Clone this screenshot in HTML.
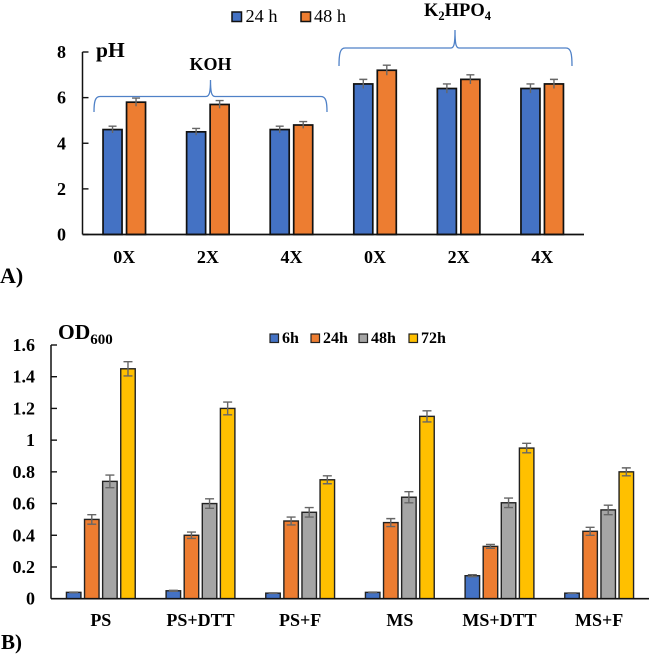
<!DOCTYPE html>
<html>
<head>
<meta charset="utf-8">
<style>
html,body{margin:0;padding:0;background:#fff;width:649px;height:656px;overflow:hidden}
svg{display:block;filter:blur(0.3px)}
text{font-family:"Liberation Serif",serif;fill:#000}
.b{font-weight:bold}
</style>
</head>
<body>
<svg id="fig" width="649" height="656" viewBox="0 0 649 656" xmlns="http://www.w3.org/2000/svg">
  <g id="chartA"></g>
  <g id="chartB"></g>

  <text class="b" x="0" y="283" font-size="22">A)</text>
  <text class="b" x="96" y="57" font-size="21.5">pH</text>
  <text class="b" x="210.5" y="70" font-size="18" text-anchor="middle">KOH</text>
  <text class="b" x="424" y="16" font-size="18.5">K<tspan font-size="12.500" dy="4">2</tspan><tspan dy="-4">HPO</tspan><tspan font-size="12.500" dy="4">4</tspan></text>
  <path d="M94 112 C94 102 95 96.500 100 96.500 L206 96.500 C209.500 96.500 210.500 92 210.500 80 C210.500 92 211.500 96.500 215 96.500 L321 96.500 C326 96.500 327 102 327 112" fill="none" stroke="#4f81c7" stroke-width="1.300"/>
  <path d="M339 66 C339 54 340 48 345 48 L451 48 C454 48 455 44 455 30 C455 44 456 48 459 48 L566 48 C571 48 572 54 572 66" fill="none" stroke="#4f81c7" stroke-width="1.300"/>

  <g>
    <rect x="232" y="12" width="9.500" height="9.500" fill="#4472c4" stroke="#111" stroke-width="1.500"/>
    <text x="245.500" y="22" font-size="18.3">24 h</text>
    <rect x="301" y="12" width="9.500" height="9.500" fill="#ed7d31" stroke="#111" stroke-width="1.500"/>
    <text x="314" y="22" font-size="18.3">48 h</text>
  </g>

  <text class="b" x="1" y="649" font-size="21">B)</text>
  <text class="b" x="58" y="339" font-size="21.5">OD<tspan font-size="15" dy="5">600</tspan></text>

  <g>
    <rect x="270" y="334" width="8.500" height="8.500" fill="#4472c4" stroke="#222" stroke-width="1.200"/>
    <text class="b" x="282" y="343" font-size="16">6h</text>
    <rect x="311" y="334" width="8.500" height="8.500" fill="#ed7d31" stroke="#222" stroke-width="1.200"/>
    <text class="b" x="323" y="343" font-size="16">24h</text>
    <rect x="359" y="334" width="8.500" height="8.500" fill="#a5a5a5" stroke="#222" stroke-width="1.200"/>
    <text class="b" x="371" y="343" font-size="16">48h</text>
    <rect x="409" y="334" width="8.500" height="8.500" fill="#ffc000" stroke="#222" stroke-width="1.200"/>
    <text class="b" x="421" y="343" font-size="16">72h</text>
  </g>
</svg>
<script>
// Panel A data
const phCategories = ["0X", "2X", "4X", "0X", "2X", "4X"];
const phTicks = [0, 2, 4, 6, 8];
const ph24 = [4.6, 4.5, 4.6, 6.6, 6.4, 6.4];
const ph48 = [5.8, 5.7, 4.8, 7.2, 6.8, 6.6];
const ph24Err = [0.15, 0.15, 0.15, 0.2, 0.2, 0.2];
const ph48Err = [0.18, 0.17, 0.15, 0.22, 0.2, 0.2];

// Panel B data
const odCategories = ["PS", "PS+DTT", "PS+F", "MS", "MS+DTT", "MS+F"];
const odTicks = [0, 0.2, 0.4, 0.6, 0.8, 1, 1.2, 1.4, 1.6];
const od6 = [0.04, 0.05, 0.035, 0.04, 0.145, 0.035];
const od24 = [0.5, 0.4, 0.49, 0.48, 0.33, 0.425];
const od48 = [0.74, 0.6, 0.545, 0.64, 0.605, 0.56];
const od72 = [1.45, 1.2, 0.75, 1.15, 0.95, 0.8];
const od6Err = [0.002, 0.003, 0.002, 0.002, 0.006, 0.002];
const od24Err = [0.03, 0.02, 0.025, 0.025, 0.012, 0.025];
const od48Err = [0.04, 0.03, 0.03, 0.035, 0.03, 0.03];
const od72Err = [0.045, 0.04, 0.025, 0.035, 0.03, 0.025];

const NS = "http://www.w3.org/2000/svg";
function mk(parent, tag, attrs) {
  const el = document.createElementNS(NS, tag);
  for (const k in attrs) el.setAttribute(k, attrs[k]);
  parent.appendChild(el);
  return el;
}

function drawChart(root, cfg) {
  const y = v => cfg.y0 - (v / cfg.yMax) * (cfg.y0 - cfg.yTop);
  const band = (cfg.xEnd - cfg.x0) / cfg.categories.length;
  const xc = i => cfg.x0 + band * (i + 0.5);
  const n = cfg.series.length;

  cfg.categories.forEach((cat, i) => {
    cfg.series.forEach((s, j) => {
      const left = xc(i) - (n * cfg.barW + (n - 1) * cfg.gap) / 2 + j * (cfg.barW + cfg.gap);
      const bar = mk(root, "rect", {
        x: left, y: y(s.values[i]), width: cfg.barW, height: cfg.y0 - y(s.values[i]),
        fill: s.color, stroke: cfg.barStroke, "stroke-width": cfg.barSW
      });
      
      

      const cx = left + cfg.barW / 2;
      const top = y(s.values[i] + s.errors[i]);
      const bot = y(s.values[i] - s.errors[i]);
      const err = mk(root, "path", {
        d: "M" + (cx - cfg.cap) + " " + top + "H" + (cx + cfg.cap) + "M" + cx + " " + top + "V" + bot + (cfg.lowerCap ? "M" + (cx - cfg.cap) + " " + bot + "H" + (cx + cfg.cap) : ""),
        stroke: cfg.errColor, "stroke-width": 1.4, fill: "none"
      });
      
      
    });

    const lab = mk(root, "text", {
      x: xc(i), y: cfg.catY, "font-size": cfg.catSize, "text-anchor": "middle", class: "b"
    });
    lab.textContent = cat;
    
    
  });

  cfg.ticks.forEach(t => {
    const mark = mk(root, "line", {
      x1: cfg.x0, x2: cfg.x0 + 6, y1: y(t), y2: y(t), stroke: "#111", "stroke-width": 1.4
    });
    
    
    const lab = mk(root, "text", {
      x: cfg.tickX, y: y(t) + 6, "font-size": cfg.tickSize, "text-anchor": "end", class: "b"
    });
    lab.textContent = t;
    
    
  });

  const yAxis = mk(root, "line", {
    x1: cfg.x0, x2: cfg.x0, y1: cfg.yTop, y2: cfg.y0, stroke: "#111", "stroke-width": 1.5
  });
  
  
  const xAxis = mk(root, "line", {
    x1: cfg.x0, x2: cfg.xEnd, y1: cfg.y0, y2: cfg.y0, stroke: "#111", "stroke-width": 1.7
  });
  
  
}

drawChart(document.getElementById("chartA"), {
  x0: 82.5, xEnd: 584, y0: 234.5, yTop: 52, yMax: 8,
  categories: phCategories, ticks: phTicks,
  series: [
    { values: ph24, errors: ph24Err, color: "#4472c4" },
    { values: ph48, errors: ph48Err, color: "#ed7d31" }
  ],
  barW: 19, gap: 4.5, barStroke: "#111", barSW: 1.7, cap: 4, lowerCap: false,
  errColor: "#666", catY: 263, catSize: 18, tickX: 66, tickSize: 18
});

drawChart(document.getElementById("chartB"), {
  x0: 51, xEnd: 649, y0: 598.7, yTop: 345, yMax: 1.6,
  categories: odCategories, ticks: odTicks,
  series: [
    { values: od6, errors: od6Err, color: "#4472c4" },
    { values: od24, errors: od24Err, color: "#ed7d31" },
    { values: od48, errors: od48Err, color: "#a5a5a5" },
    { values: od72, errors: od72Err, color: "#ffc000" }
  ],
  barW: 14.5, gap: 3.6, barStroke: "#222", barSW: 1.4, cap: 4.5, lowerCap: true,
  errColor: "#666", catY: 626, catSize: 18, tickX: 35, tickSize: 18
});
</script>
</body>
</html>
